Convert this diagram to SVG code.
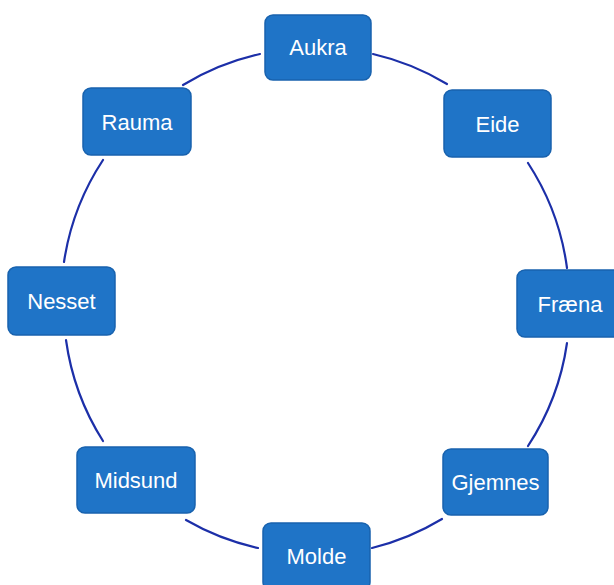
<svg xmlns="http://www.w3.org/2000/svg" width="614" height="585" viewBox="0 0 614 585">
<style>
.box{fill:#1f74c7;stroke:#1862ae;stroke-width:1.5}
.lbl{fill:#ffffff;font-family:"Liberation Sans",Arial,sans-serif;font-size:22px;text-anchor:middle}
.arc{fill:none;stroke:#1c2fa8;stroke-width:2.2;stroke-linecap:round}
</style>
<rect width="614" height="585" fill="#ffffff"/>
<g id="connectors">
<path class="arc" d="M373,54 A253,253 0 0 1 447,84"/>
<path class="arc" d="M528,163 A253,253 0 0 1 567,268"/>
<path class="arc" d="M567,343 A253,253 0 0 1 528,446"/>
<path class="arc" d="M442,519 A253,253 0 0 1 372,548"/>
<path class="arc" d="M258,548 A253,253 0 0 1 186,520"/>
<path class="arc" d="M103,441 A253,253 0 0 1 66,340"/>
<path class="arc" d="M64,262 A253,253 0 0 1 103,160"/>
<path class="arc" d="M183,85 A253,253 0 0 1 260,54"/>
</g>
<g id="aukra"><rect class="box" x="265" y="15" width="106" height="65" rx="8"/><text class="lbl" x="318" y="55">Aukra</text></g>
<g id="eide"><rect class="box" x="444" y="90" width="107" height="67" rx="8"/><text class="lbl" x="497.5" y="131.5">Eide</text></g>
<g id="fraena"><rect class="box" x="517" y="270" width="106" height="67" rx="8"/><text class="lbl" x="570" y="311.5">Fræna</text></g>
<g id="gjemnes"><rect class="box" x="443" y="449" width="105" height="66" rx="8"/><text class="lbl" x="495.5" y="490">Gjemnes</text></g>
<g id="molde"><rect class="box" x="263" y="523" width="107" height="67" rx="8"/><text class="lbl" x="316.5" y="564">Molde</text></g>
<g id="midsund"><rect class="box" x="77" y="447" width="118" height="66" rx="8"/><text class="lbl" x="136" y="488">Midsund</text></g>
<g id="nesset"><rect class="box" x="8" y="267" width="107" height="68" rx="8"/><text class="lbl" x="61.5" y="309">Nesset</text></g>
<g id="rauma"><rect class="box" x="83" y="88" width="108" height="67" rx="8"/><text class="lbl" x="137" y="129.5">Rauma</text></g>
</svg>
